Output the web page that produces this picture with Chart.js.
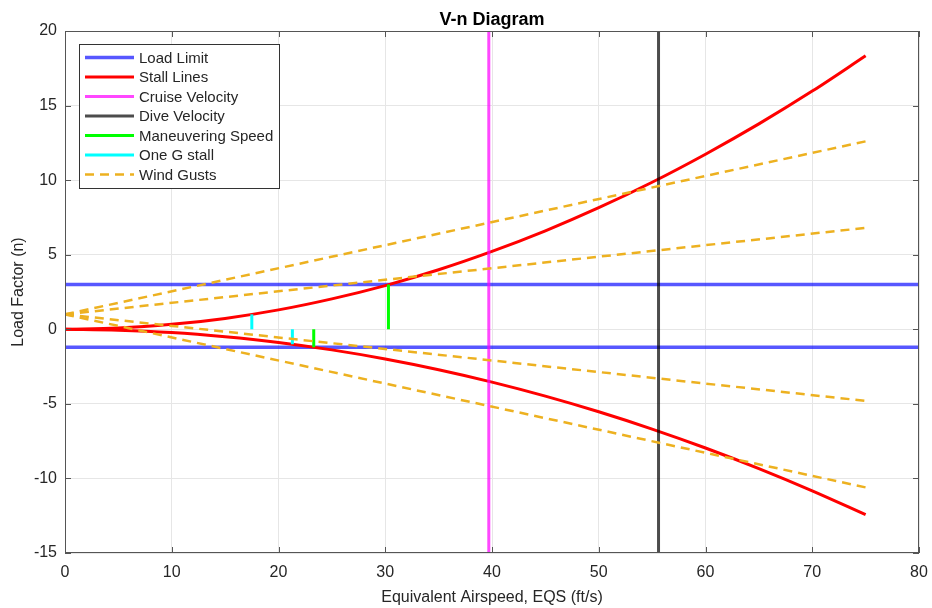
<!DOCTYPE html>
<html>
<head>
<meta charset="utf-8">
<title>V-n Diagram</title>
<script src="https://cdn.jsdelivr.net/npm/chart.js@4.4.1/dist/chart.umd.min.js"></script>
<style>
    html, body { margin: 0; padding: 0; background: #fff; }
    #wrap { width: 932px; height: 608px; }
</style>
</head>
<body>
<div id="wrap"><canvas id="vnChart" width="932" height="608"></canvas></div>
<script>
// airspeed samples for the stall curves (ft/s)
const speeds = [0, 5, 10, 15, 20, 25, 30, 35, 40, 45, 50, 55, 60, 65, 70, 75];
const stallPos = [0, 0.08, 0.33, 0.73, 1.30, 2.04, 2.93, 3.99, 5.22, 6.60, 8.15, 9.86, 11.74, 13.77, 15.97, 18.34];
const stallNeg = [0, -0.06, -0.22, -0.50, -0.88, -1.38, -1.99, -2.71, -3.54, -4.48, -5.53, -6.69, -7.96, -9.34, -10.83, -12.43];

const loadLimits = [3, -1.2];
const cruiseSpeed = 39.7;
const diveSpeed = 55.6;
const maneuverSpeeds = [30.3, 23.3];
const maneuverLoads = [3, -1.2];
const oneGSpeeds = [17.5, 21.3];
const oneGLoads = [1, -1];
const gustStart = 1;
const gustEndSpeed = 75;
const gustEnds = [12.6, 6.8, -4.8, -10.6];

const xTicks = [0, 10, 20, 30, 40, 50, 60, 70, 80];
const yTicks = [-15, -10, -5, 0, 5, 10, 15, 20];

const FONT = "'Liberation Sans', Arial, Helvetica, sans-serif";
const C = {
    limit: 'rgba(0, 0, 255, 0.66)',
    stall: '#ff0000',
    cruise: 'rgba(255, 0, 255, 0.72)',
    dive: 'rgba(0, 0, 0, 0.7)',
    maneuver: '#00ff00',
    oneG: '#00ffff',
    gust: '#EDB120'
};

function seg(x0, y0, x1, y1) { return [{ x: x0, y: y0 }, { x: x1, y: y1 }]; }

function line(label, data, color, extra) {
    return Object.assign({
        label, data, borderColor: color, backgroundColor: color,
        borderWidth: 3, pointRadius: 0, fill: false, showLine: true
    }, extra || {});
}

const datasets = [];
loadLimits.forEach((n, i) => datasets.push(line('Load Limit', seg(0, n, 80, n), C.limit, { legend: i === 0, borderWidth: 3.5 })));
datasets.push(line('Stall Lines', speeds.map((v, i) => ({ x: v, y: stallPos[i] })), C.stall, { legend: true, cubicInterpolationMode: 'monotone' }));
datasets.push(line('Stall Lines', speeds.map((v, i) => ({ x: v, y: stallNeg[i] })), C.stall, { cubicInterpolationMode: 'monotone' }));
datasets.push(line('Cruise Velocity', seg(cruiseSpeed, -15, cruiseSpeed, 20), C.cruise, { legend: true }));
datasets.push(line('Dive Velocity', seg(diveSpeed, -15, diveSpeed, 20), C.dive, { legend: true }));
maneuverSpeeds.forEach((v, i) => datasets.push(line('Maneuvering Speed', seg(v, 0, v, maneuverLoads[i]), C.maneuver, { legend: i === 0 })));
oneGSpeeds.forEach((v, i) => datasets.push(line('One G stall', seg(v, 0, v, oneGLoads[i]), C.oneG, { legend: i === 0 })));
gustEnds.forEach((n, i) => datasets.push(line('Wind Gusts', seg(0, gustStart, gustEndSpeed, n), C.gust, { legend: i === 0, borderWidth: 2.5, borderDash: [9, 6] })));

// later series sit on top, like the order they were plotted in
datasets.forEach((d, i) => { d.order = -i; });

// title, box, inward ticks and the boxed legend
const frame = {
    id: 'frame',
    afterDraw(chart) {
        const { ctx, chartArea: a, scales: { x, y } } = chart;
        ctx.save();
        ctx.strokeStyle = '#555';
        ctx.lineWidth = 1;
        ctx.strokeRect(a.left + 0.5, a.top + 0.5, a.right - a.left - 1, a.bottom - a.top - 1);
        ctx.beginPath();
        xTicks.forEach((t) => {
            const px = Math.round(x.getPixelForValue(t)) + 0.5;
            ctx.moveTo(px, a.bottom); ctx.lineTo(px, a.bottom - 6);
            ctx.moveTo(px, a.top); ctx.lineTo(px, a.top + 6);
        });
        yTicks.forEach((t) => {
            const py = Math.round(y.getPixelForValue(t)) + 0.5;
            ctx.moveTo(a.left, py); ctx.lineTo(a.left + 6, py);
            ctx.moveTo(a.right, py); ctx.lineTo(a.right - 6, py);
        });
        ctx.stroke();

        ctx.fillStyle = '#000';
        ctx.font = 'bold 18px ' + FONT;
        ctx.textAlign = 'center';
        ctx.textBaseline = 'alphabetic';
        ctx.fillText('V-n Diagram', (a.left + a.right) / 2, 25);

        const items = chart.data.datasets.filter((d) => d.legend);
        const bx = 79.5, by = 44.5, bw = 200, bh = 144, rowH = 19.5;
        ctx.fillStyle = '#fff';
        ctx.fillRect(bx, by, bw, bh);
        ctx.strokeStyle = '#333';
        ctx.strokeRect(bx, by, bw, bh);
        ctx.font = '15px ' + FONT;
        ctx.textAlign = 'left';
        ctx.textBaseline = 'middle';
        items.forEach((d, i) => {
            const ly = 57.5 + i * rowH;
            ctx.beginPath();
            ctx.strokeStyle = d.borderColor;
            ctx.lineWidth = d.borderWidth;
            ctx.setLineDash(d.borderDash || []);
            ctx.moveTo(85, ly); ctx.lineTo(134, ly);
            ctx.stroke();
            ctx.setLineDash([]);
            ctx.fillStyle = '#262626';
            ctx.fillText(d.label, 139, ly + 1);
        });
        ctx.restore();
    }
};

new Chart(document.getElementById('vnChart').getContext('2d'), {
    type: 'scatter',
    data: { datasets },
    options: {
        responsive: false,
        animation: false,
        events: [],
        layout: { padding: { top: 31, right: 13, left: 0, bottom: 0 } },
        plugins: { legend: { display: false }, tooltip: { enabled: false }, title: { display: false } },
        scales: {
            x: {
                type: 'linear', min: 0, max: 80,
                afterFit: (s) => { s.height = 55; s.paddingLeft = 0; s.paddingRight = 0; },
                afterBuildTicks: (s) => { s.ticks = xTicks.map((v) => ({ value: v })); },
                ticks: { font: { size: 16, family: FONT }, color: '#262626', padding: 10 },
                grid: { color: '#e6e6e6', drawTicks: false },
                border: { display: false },
                title: { display: true, text: 'Equivalent Airspeed, EQS (ft/s)', font: { size: 16, family: FONT }, color: '#262626', padding: { top: 0, bottom: 1 } }
            },
            y: {
                type: 'linear', min: -15, max: 20,
                afterFit: (s) => { s.width = 65; s.paddingTop = 0; s.paddingBottom = 0; },
                afterBuildTicks: (s) => { s.ticks = yTicks.map((v) => ({ value: v })); },
                ticks: { font: { size: 16, family: FONT }, color: '#262626', padding: 8 },
                grid: { color: '#e6e6e6', drawTicks: false },
                border: { display: false },
                title: { display: true, text: 'Load Factor (n)', font: { size: 16, family: FONT }, color: '#262626', padding: { top: 9, bottom: 0 } }
            }
        }
    },
    plugins: [frame]
});
</script>
</body>
</html>
